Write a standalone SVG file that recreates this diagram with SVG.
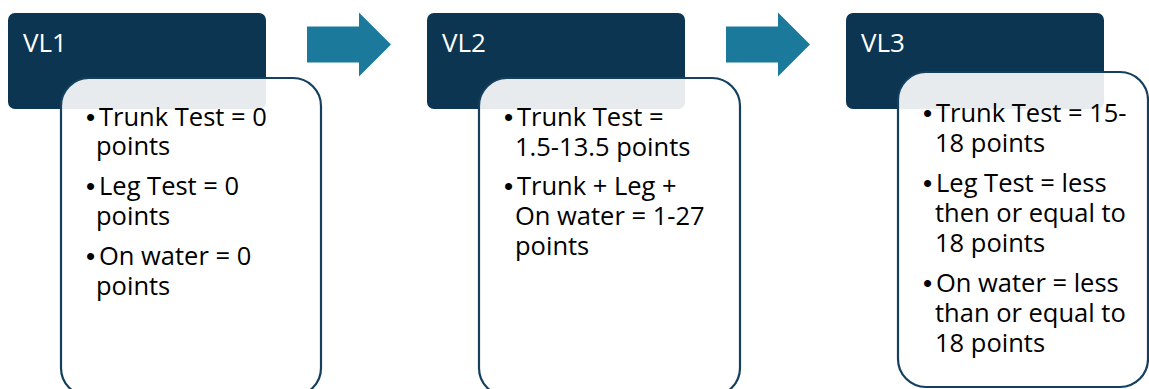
<svg xmlns="http://www.w3.org/2000/svg" width="1149" height="389" viewBox="0 0 1149 389">
<style>
.hdr{fill:#0b3550}
.card{fill:#ffffff;fill-opacity:0.9;stroke:#14405e;stroke-width:2.2}
.title{font-family:"Open Sans","Liberation Sans",sans-serif;font-size:26px;fill:#ffffff}
.body{font-family:"Open Sans","Liberation Sans",sans-serif;font-size:25.5px;fill:#000000}
.b{font-family:"Liberation Sans",sans-serif;font-size:26px}
.arrow{fill:#1b7a9c}
</style>
<rect width="1149" height="389" fill="#ffffff"/>
<g id="connectors">
<polygon class="arrow" points="307,26.5 359,26.5 359,12.5 391,44.5 359,76.5 359,62.5 307,62.5"/>
<polygon class="arrow" points="726,26.5 778,26.5 778,12.5 810,44.5 778,76.5 778,62.5 726,62.5"/>
</g>
<g id="vl1">
<rect class="hdr" x="8" y="13" width="258" height="96" rx="7"/>
<text class="title" x="23" y="52">VL1</text>
<rect class="card" x="61" y="78" width="260" height="318" rx="28"/>
<text class="body"><tspan class="b" x="86" y="126">•</tspan><tspan x="99" y="126">Trunk Test = 0</tspan><tspan x="96" y="155">points</tspan><tspan class="b" x="86" y="195">•</tspan><tspan x="99" y="195">Leg Test = 0</tspan><tspan x="96" y="225">points</tspan><tspan class="b" x="86" y="265">•</tspan><tspan x="99" y="265">On water = 0</tspan><tspan x="96" y="295">points</tspan></text>
</g>
<g id="vl2">
<rect class="hdr" x="427" y="13" width="258" height="96" rx="7"/>
<text class="title" x="442" y="52">VL2</text>
<rect class="card" x="479" y="78" width="261" height="318" rx="28"/>
<text class="body"><tspan class="b" x="504" y="126">•</tspan><tspan x="517" y="126">Trunk Test =</tspan><tspan x="515" y="156">1.5-13.5 points</tspan><tspan class="b" x="504" y="195">•</tspan><tspan x="517" y="195">Trunk + Leg +</tspan><tspan x="515" y="225">On water = 1-27</tspan><tspan x="515" y="255">points</tspan></text>
</g>
<g id="vl3">
<rect class="hdr" x="846" y="13" width="258" height="96" rx="7"/>
<text class="title" x="861" y="52">VL3</text>
<rect class="card" x="898" y="72" width="250" height="315" rx="28"/>
<text class="body"><tspan class="b" x="923" y="122">•</tspan><tspan x="936" y="122">Trunk Test = 15-</tspan><tspan x="935" y="152">18 points</tspan><tspan class="b" x="923" y="192">•</tspan><tspan x="936" y="192">Leg Test = less</tspan><tspan x="935" y="222">then or equal to</tspan><tspan x="935" y="252">18 points</tspan><tspan class="b" x="923" y="292">•</tspan><tspan x="936" y="292">On water = less</tspan><tspan x="935" y="322">than or equal to</tspan><tspan x="935" y="352">18 points</tspan></text>
</g>
</svg>
